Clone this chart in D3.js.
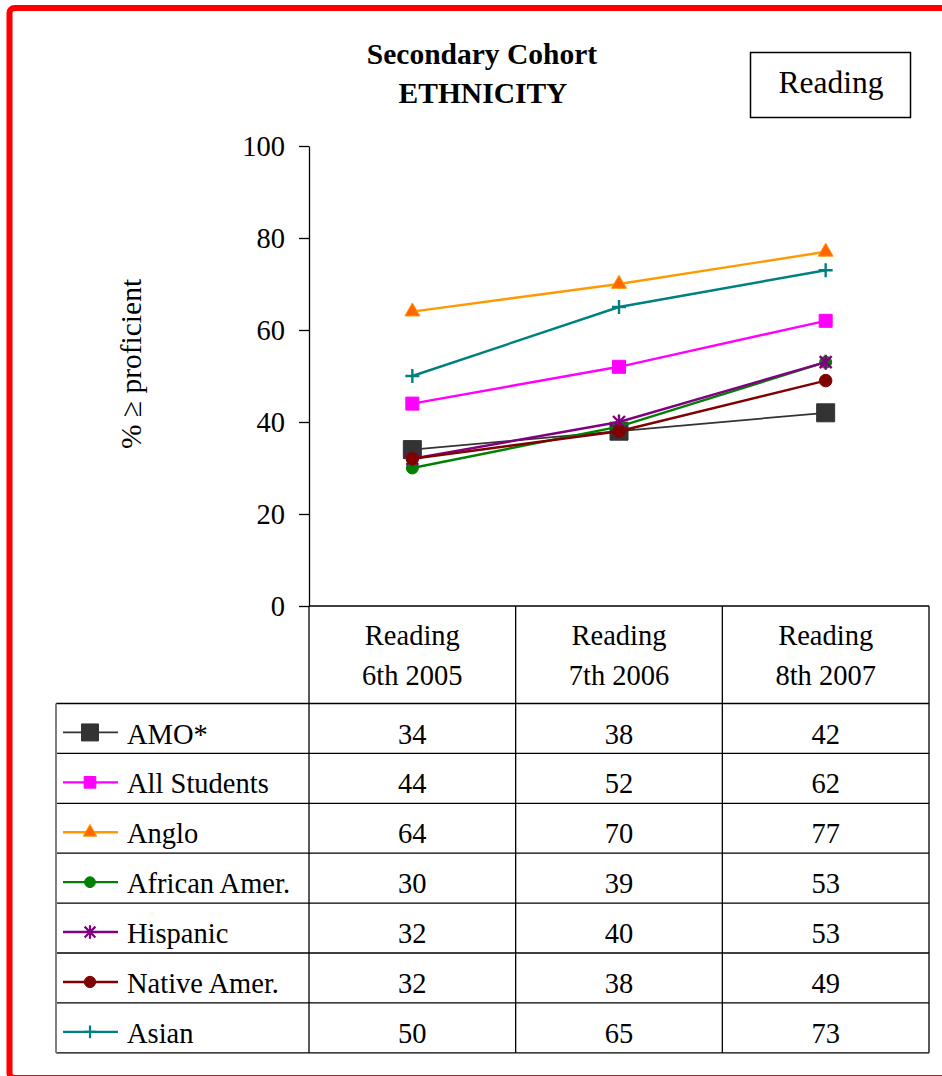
<!DOCTYPE html>
<html>
<head>
<meta charset="utf-8">
<script src="https://cdn.jsdelivr.net/npm/d3@7"></script>
<style>
  html, body { margin: 0; padding: 0; background: #fff; }
  svg { display: block; }
  text { font-family: "Liberation Serif", "Times New Roman", serif; fill: #000; }
</style>
</head>
<body>
<svg id="chart" width="942" height="1076"></svg>
<script>
// ---- data ----
const categories = ["Reading 6th 2005", "Reading 7th 2006", "Reading 8th 2007"];
const categoryLines = [["Reading", "6th 2005"], ["Reading", "7th 2006"], ["Reading", "8th 2007"]];
const seriesNames = ["AMO*", "All Students", "Anglo", "African Amer.", "Hispanic", "Native Amer.", "Asian"];
const amo = [34, 38, 42];
const allStudents = [44, 52, 62];
const anglo = [64, 70, 77];
const africanAmer = [30, 39, 53];
const hispanic = [32, 40, 53];
const nativeAmer = [32, 38, 49];
const asian = [50, 65, 73];
const yTicks = [0, 20, 40, 60, 80, 100];

// ---- series styles ----
const seriesValues = [amo, allStudents, anglo, africanAmer, hispanic, nativeAmer, asian];
const styles = [
  { line: "#333333", lw: 1.8, marker: "square", size: 18, fill: "#333333", stroke: "#333333" },
  { line: "#FF00FF", lw: 2.4, marker: "square", size: 13, fill: "#FF00FF", stroke: "#FF00FF" },
  { line: "#FF9900", lw: 2.4, marker: "triangle", size: 15, fill: "#FF6600", stroke: "#FF9900" },
  { line: "#008000", lw: 2.4, marker: "circle", size: 12, fill: "#008000", stroke: "#008000" },
  { line: "#800080", lw: 2.4, marker: "star", size: 15, fill: "none", stroke: "#800080" },
  { line: "#800000", lw: 2.4, marker: "circle", size: 12.5, fill: "#800000", stroke: "#800000" },
  { line: "#008080", lw: 2.4, marker: "plus", size: 14, fill: "none", stroke: "#008080" }
];
const series = seriesNames.map((name, i) => ({ name, values: seriesValues[i], style: styles[i] }));

function markerPath(kind, s) {
  const r = s / 2;
  if (kind === "square") return `M${-r},${-r}H${r}V${r}H${-r}Z`;
  if (kind === "circle") return d3.symbol(d3.symbolCircle, Math.PI * r * r)();
  if (kind === "triangle") {
    const h = s * Math.sqrt(3) / 2;
    return `M0,${-h * 2 / 3}L${r},${h / 3}L${-r},${h / 3}Z`;
  }
  if (kind === "plus") return `M${-r},0H${r}M0,${-r}V${r}`;
  if (kind === "star") {
    const d = r * 0.8;
    return `M${-d},${-d}L${d},${d}M${-d},${d}L${d},${-d}M0,${-r}V${r}`;
  }
}

// ---- layout ----
const svg = d3.select("#chart");
const plotLeft = 309, plotRight = 929, plotTop = 146, plotBottom = 606;
const tableLeft = 56, headerBottom = 703.5, rowH = 49.9;
const tableBottom = headerBottom + rowH * series.length;

const x = d3.scaleBand().domain(categories).range([plotLeft, plotRight]).padding(0);
const y = d3.scaleLinear().domain([0, 100]).range([plotBottom, plotTop]);
const cx = c => x(c) + x.bandwidth() / 2;

// red frame (runs off the right edge)
svg.append("rect")
  .attr("x", 9.5).attr("y", 8)
  .attr("width", 1000).attr("height", 1070)
  .attr("rx", 5)
  .attr("fill", "none")
  .attr("stroke", "#FF0000")
  .attr("stroke-width", 6);

// title
svg.append("text").attr("x", 482).attr("y", 64)
  .attr("text-anchor", "middle").attr("font-size", 29.5).attr("font-weight", "bold")
  .text("Secondary Cohort");
svg.append("text").attr("x", 483).attr("y", 103)
  .attr("text-anchor", "middle").attr("font-size", 29.5).attr("font-weight", "bold")
  .text("ETHNICITY");

// subject box
svg.append("rect").attr("x", 750.5).attr("y", 52.5).attr("width", 160).attr("height", 65)
  .attr("fill", "#fff").attr("stroke", "#000").attr("stroke-width", 1.5);
svg.append("text").attr("x", 831).attr("y", 93)
  .attr("text-anchor", "middle").attr("font-size", 31.5)
  .text("Reading");

// y axis
const yAxis = svg.append("g")
  .attr("transform", `translate(${plotLeft},0)`)
  .call(d3.axisLeft(y).tickValues(yTicks).tickSize(10).tickSizeOuter(0).tickPadding(14));
yAxis.select(".domain").attr("stroke", "#000").attr("stroke-width", 1.3);
yAxis.selectAll(".tick line").attr("stroke", "#000").attr("stroke-width", 1.3);
yAxis.selectAll(".tick text")
  .attr("font-family", "Liberation Serif, Times New Roman, serif")
  .attr("font-size", 28.5).attr("fill", "#000").attr("dy", "0.34em");

// y title
svg.append("text")
  .attr("transform", `translate(141,364) rotate(-90)`)
  .attr("text-anchor", "middle").attr("font-size", 29.5)
  .text("% \u2265 proficient");

// data table grid
const grid = svg.append("g").attr("stroke", "#000").attr("stroke-width", 1.3);
grid.append("line").attr("x1", plotLeft).attr("x2", plotRight).attr("y1", plotBottom).attr("y2", plotBottom);
categories.forEach(c => {
  grid.append("line").attr("x1", x(c) + x.bandwidth()).attr("x2", x(c) + x.bandwidth())
    .attr("y1", plotBottom).attr("y2", tableBottom);
});
grid.append("line").attr("x1", plotLeft).attr("x2", plotLeft).attr("y1", plotBottom).attr("y2", tableBottom);
d3.range(series.length + 1).forEach(i => {
  const yy = headerBottom + rowH * i;
  grid.append("line").attr("x1", tableLeft).attr("x2", plotRight).attr("y1", yy).attr("y2", yy);
});
svg.append("line").attr("x1", tableLeft).attr("x2", tableLeft)
  .attr("y1", headerBottom).attr("y2", tableBottom)
  .attr("stroke", "#808080").attr("stroke-width", 2);

// category header text
categories.forEach((c, i) => {
  categoryLines[i].forEach((t, j) => {
    svg.append("text").attr("x", cx(c)).attr("y", 645 + j * 40)
      .attr("text-anchor", "middle").attr("font-size", 28.5).text(t);
  });
});

// table rows: legend key + values
series.forEach((s, i) => {
  const top = headerBottom + rowH * i;
  const mid = top + rowH / 2;
  const st = s.style;
  svg.append("line").attr("x1", 63).attr("x2", 118).attr("y1", mid + 4).attr("y2", mid + 4)
    .attr("stroke", st.line).attr("stroke-width", st.lw);
  svg.append("path").attr("transform", `translate(90,${mid + 4})`)
    .attr("d", markerPath(st.marker, i === 0 ? 17 : st.size * 0.9))
    .attr("fill", st.fill).attr("stroke", st.stroke)
    .attr("stroke-width", st.fill === "none" ? 2.2 : 1);
  svg.append("text").attr("x", 127).attr("y", top + 40)
    .attr("font-size", 28.5).text(s.name);
  s.values.forEach((v, k) => {
    svg.append("text").attr("x", cx(categories[k])).attr("y", top + 40)
      .attr("text-anchor", "middle").attr("font-size", 28.5).text(v);
  });
});

// lines and markers
const line = d3.line().x((d, k) => cx(categories[k])).y(d => y(d));
const plot = svg.append("g");
series.forEach(s => {
  const g = plot.append("g");
  g.append("path").datum(s.values).attr("d", line)
    .attr("fill", "none").attr("stroke", s.style.line).attr("stroke-width", s.style.lw);
  g.selectAll("path.m").data(s.values).join("path").attr("class", "m")
    .attr("transform", (d, k) => `translate(${cx(categories[k])},${y(d)})`)
    .attr("d", markerPath(s.style.marker, s.style.size))
    .attr("fill", s.style.fill).attr("stroke", s.style.stroke)
    .attr("stroke-width", s.style.fill === "none" ? 2.4 : 1);
});
</script>
</body>
</html>
